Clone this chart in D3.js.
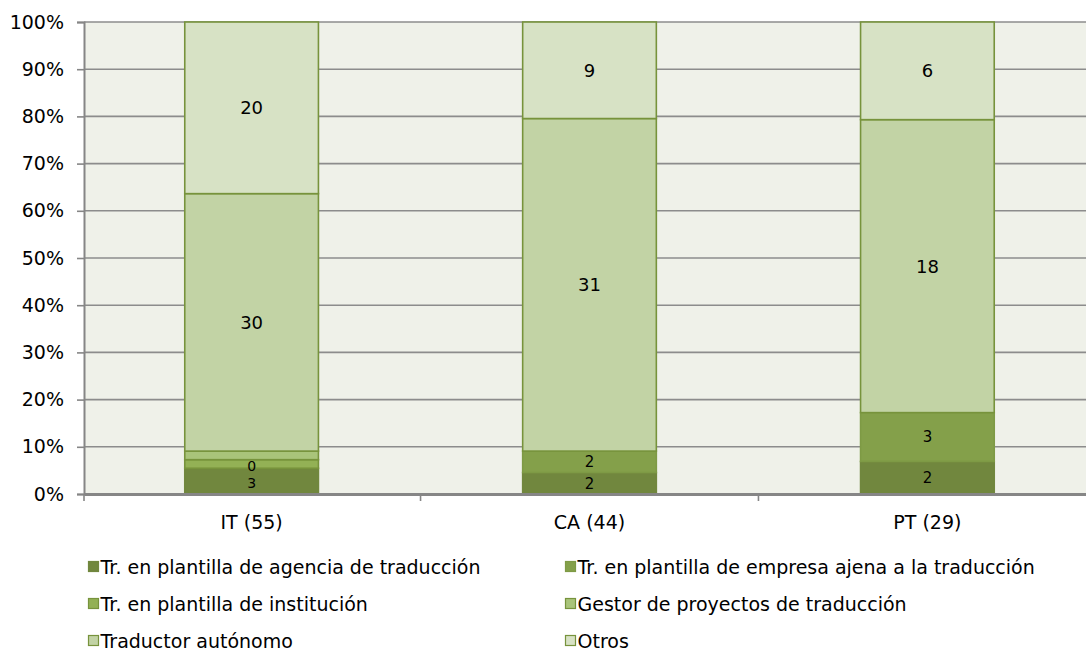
<!DOCTYPE html>
<html><head><meta charset="utf-8">
<script src="https://cdn.jsdelivr.net/npm/d3@7"></script>
<style>
body{margin:0;background:#fff;overflow:hidden;}
text{font-family:Verdana,"DejaVu Sans",sans-serif;fill:#000;}
</style></head>
<body><svg id="c" width="1086" height="651"></svg>
<script>
const categories = ["IT (55)", "CA (44)", "PT (29)"];
const seriesNames = [
  "Tr. en plantilla de agencia de traducción",
  "Tr. en plantilla de empresa ajena a la traducción",
  "Tr. en plantilla de institución",
  "Gestor de proyectos de traducción",
  "Traductor autónomo",
  "Otros"
];
// counts per series, in category order
const agencia   = [3, 2, 2];
const empresa   = [0, 2, 3];
const institucion = [1, 0, 0];
const gestor    = [1, 0, 0];
const autonomo  = [30, 31, 18];
const otros     = [20, 9, 6];
// which labels are displayed (as in the original)
const labelShown = [
  [true, true, true],
  [true, true, true],
  [false, false, false],
  [false, false, false],
  [true, true, true],
  [true, true, true]
];
const yTicks = [0,0.1,0.2,0.3,0.4,0.5,0.6,0.7,0.8,0.9,1];
const fills   = ["#71873E","#84A04A","#93B155","#A9C47A","#C2D3A5","#D7E2C5"];
const strokes = ["#71873E","#7E9A45","#77933C","#77933C","#77933C","#77933C"];

const seriesValues = [agencia, empresa, institucion, gestor, autonomo, otros];
const svg = d3.select("#c");
const L = 84, R = 1095, T = 22, B = 494;

const x = d3.scaleBand().domain(categories).range([L, R]).paddingInner(0.6).paddingOuter(0.296);
const y = d3.scaleLinear().domain([0,1]).range([B, T]);

// plot background
svg.append("rect").attr("x", L).attr("y", T).attr("width", R-L).attr("height", B-T).attr("fill", "#EFF1E9");

// gridlines
svg.append("g").selectAll("line").data(yTicks.filter(d=>d>0)).join("line")
  .attr("x1", L).attr("x2", R).attr("y1", d=>y(d)).attr("y2", d=>y(d))
  .attr("stroke", "#8C8C8C").attr("stroke-width", 1.6);

// stack data
const table = categories.map((c,i)=>{
  const o = {cat:c};
  seriesNames.forEach((s,j)=>o[s]=seriesValues[j][i]);
  return o;
});
const stack = d3.stack().keys(seriesNames).offset(d3.stackOffsetExpand);
const layers = stack(table);

const g = svg.append("g");
layers.forEach((layer, j)=>{
  g.append("g").selectAll("rect").data(layer).join("rect")
    .attr("x", d=>x(d.data.cat)+0.75)
    .attr("width", x.bandwidth()-1.5)
    .attr("y", d=>y(d[1]))
    .attr("height", d=>Math.max(0, y(d[0])-y(d[1])))
    .attr("fill", fills[j])
    .attr("stroke", d=> (y(d[0])-y(d[1]))>0 ? strokes[j] : "none")
    .attr("stroke-width", 1.6);
});
// labels
layers.forEach((layer, j)=>{
  const big = j >= 4;
  g.append("g").selectAll("text").data(layer.map((d,i)=>({d,i})).filter(o=>labelShown[j][o.i])).join("text")
    .attr("x", o=>x(o.d.data.cat)+x.bandwidth()/2)
    .attr("y", o=>(y(o.d[0])+y(o.d[1]))/2 + ((j===1 && seriesValues[j][o.i]===0) ? -2.5 : 0) + ((j===0 && o.i===0) ? 2 : 0))
    .attr("dy", "0.36em")
    .attr("text-anchor", "middle")
    .style("font-size", big ? "18px" : (o=>o.i===0 ? "14px" : "15px"))
    .style("font-size", o => big ? "18px" : (o.i===0 ? "14px" : "15px"))
    .text(o=>seriesValues[j][o.i]);
});

// y axis
const yAxis = d3.axisLeft(y).tickValues(yTicks).tickFormat(d3.format(".0%")).tickSize(7).tickPadding(13);
const ya = svg.append("g").attr("transform", `translate(${L},0)`).call(yAxis);
ya.select(".domain").attr("stroke", "#868686").attr("stroke-width", 2);
ya.selectAll(".tick line").attr("stroke", "#868686").attr("stroke-width", 1.6);
ya.selectAll(".tick text").style("font-size", "19px").attr("font-family", null);

// x axis
const xAxis = d3.axisBottom(x).tickSize(0).tickPadding(22);
const xa = svg.append("g").attr("transform", `translate(0,${B})`).call(xAxis);
xa.select(".domain").attr("stroke", "#868686").attr("stroke-width", 3);
xa.selectAll(".tick text").style("font-size", "19px").attr("font-family", null);
// x category separators
const sepPos = [L, ...categories.map(c=>x(c)+x.bandwidth()/2+x.step()/2)];
svg.append("g").selectAll("line").data(sepPos).join("line")
  .attr("x1", d=>d).attr("x2", d=>d).attr("y1", B).attr("y2", B+7)
  .attr("stroke", "#868686").attr("stroke-width", 1.6);

// legend
const legX = [88, 565];
const legY = [567, 604, 641];
const leg = svg.append("g").selectAll("g").data(seriesNames).join("g")
  .attr("transform", (d,i)=>`translate(${legX[i%2]},${legY[Math.floor(i/2)]})`);
leg.append("rect").attr("x", 0.5).attr("y", -5.5).attr("width", 10).attr("height", 10)
  .attr("fill", (d,i)=>fills[i]).attr("stroke", (d,i)=>strokes[i]).attr("stroke-width", 1.2);
leg.append("text").attr("x", 12.5).attr("dy", "0.36em").style("font-size", "19px").text(d=>d);
</script></body></html>
